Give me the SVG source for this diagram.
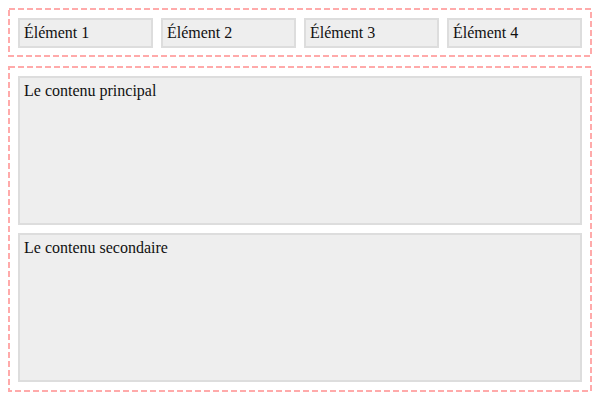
<svg xmlns="http://www.w3.org/2000/svg" width="600" height="400" viewBox="0 0 600 400">
<style>
.wrap{fill:none;stroke:#ffaaaa;stroke-width:2;stroke-dasharray:6 3}
.box{fill:#eeeeee;stroke:#dddddd;stroke-width:2}
text{font-family:"Liberation Serif","Times New Roman",serif;font-size:16px;fill:#111}
</style>
<rect width="600" height="400" fill="#ffffff"/>
<g id="header">
<rect class="wrap" x="9" y="9" width="582" height="47"/>
<g id="el1"><rect class="box" x="19" y="19" width="133" height="28"/><text x="24" y="38">Élément 1</text></g>
<g id="el2"><rect class="box" x="162" y="19" width="133" height="28"/><text x="167" y="38">Élément 2</text></g>
<g id="el3"><rect class="box" x="305" y="19" width="133" height="28"/><text x="310" y="38">Élément 3</text></g>
<g id="el4"><rect class="box" x="448" y="19" width="133" height="28"/><text x="453" y="38">Élément 4</text></g>
</g>
<g id="body">
<rect class="wrap" x="9" y="67" width="582" height="324"/>
<g id="main"><rect class="box" x="19" y="77" width="562" height="147"/><text x="24" y="96">Le contenu principal</text></g>
<g id="secondary"><rect class="box" x="19" y="234" width="562" height="147"/><text x="24" y="253">Le contenu secondaire</text></g>
</g>
<g id="connectors"/>
</svg>
